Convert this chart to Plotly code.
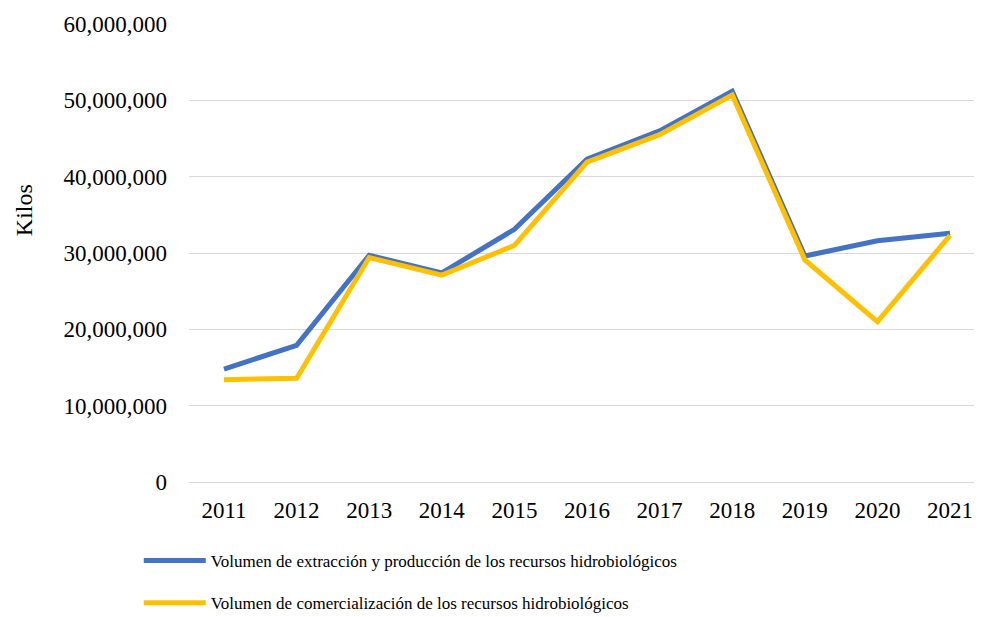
"""Volumen de extracción y comercialización de recursos hidrobiológicos, 2011-2021."""

import plotly.graph_objects as go

YEARS = list(range(2011, 2022))
EXTRACCION = [
    14.8e6, 17.9e6, 29.7e6, 27.4e6, 33.1e6, 42.3e6,
    46.0e6, 51.2e6, 29.6e6, 31.6e6, 32.6e6,
]
COMERCIALIZACION = [
    13.4e6, 13.6e6, 29.4e6, 27.1e6, 31.0e6, 41.9e6,
    45.5e6, 50.7e6, 29.1e6, 21.0e6, 32.3e6,
]
NAMES = [
    "Volumen de extracción y producción de los recursos hidrobiológicos",
    "Volumen de comercialización de los recursos hidrobiológicos",
]
COLORS = ["#4472C4", "#FFC000"]
FONT = "Liberation Serif, Times New Roman, serif"

# the page body has an 8px margin, so the figure is a little smaller than the window
fig = go.Figure()
for name, values, color, group in zip(
    NAMES, [EXTRACCION, COMERCIALIZACION], COLORS, ["a", "b"]
):
    fig.add_trace(
        go.Scatter(
            x=YEARS,
            y=values,
            name=name,
            mode="lines",
            line={"color": color, "width": 5},
            legendgroup=group,
        )
    )

fig.update_xaxes(
    range=[2010.518, 2021.33],
    tickmode="array",
    tickvals=YEARS,
    ticktext=[str(y) for y in YEARS],
    showgrid=False,
    showline=True,
    linecolor="#D9D9D9",
    linewidth=1,
    tickfont={"size": 23},
    ticklabelstandoff=7,
)
fig.update_yaxes(
    range=[0, 60e6],
    dtick=10e6,
    tickformat=",d",
    gridcolor="#D9D9D9",
    gridwidth=1,
    zeroline=False,
    tickfont={"size": 23},
    ticklabelstandoff=21,
)
fig.add_annotation(
    text="Kilos",
    textangle=-90,
    xref="paper",
    yref="paper",
    x=(24 - 189) / 785,
    y=(484 - 211) / 460,
    xanchor="center",
    yanchor="middle",
    showarrow=False,
    font={"size": 24},
)
fig.update_layout(
    width=966,
    height=613,
    margin={"l": 181, "r": 0, "t": 16, "b": 137},
    paper_bgcolor="white",
    plot_bgcolor="white",
    font={"family": FONT, "color": "black"},
    showlegend=True,
    legend={
        "x": -0.064,
        "y": -0.134,
        "xanchor": "left",
        "yanchor": "top",
        "font": {"size": 17},
        "itemwidth": 62,
        "tracegroupgap": 17,
        "traceorder": "grouped",
    },
)
fig.write_html("out.html")
